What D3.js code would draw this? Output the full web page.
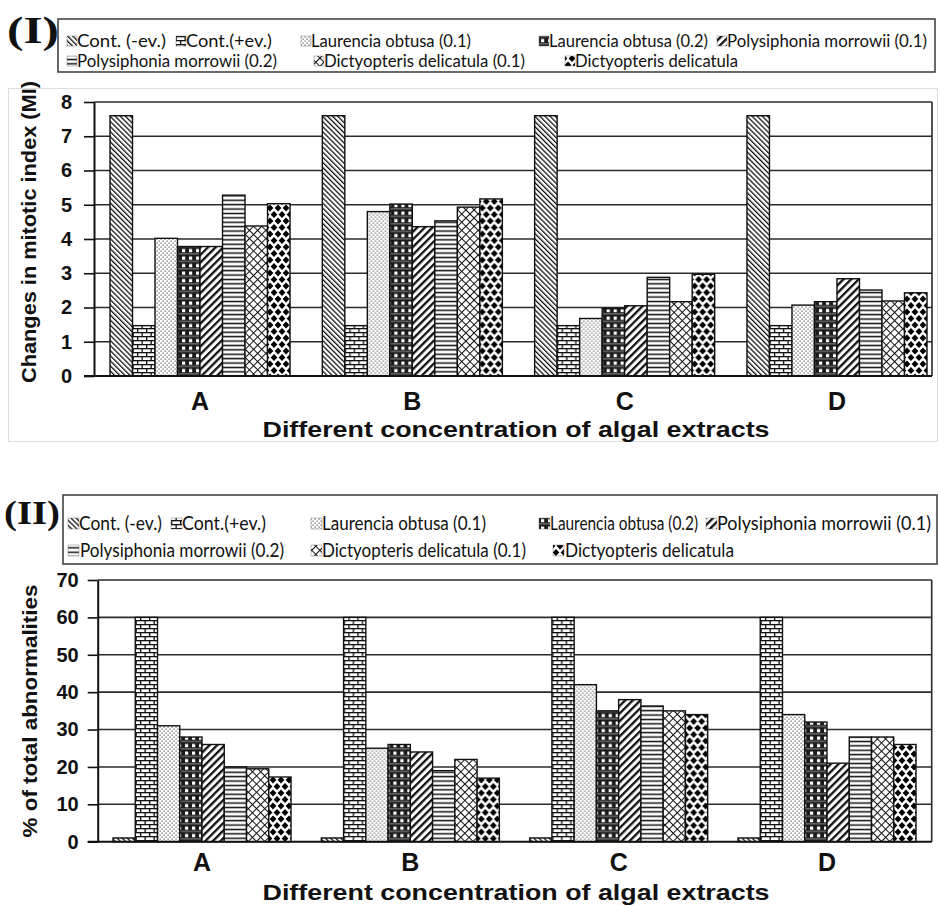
<!DOCTYPE html>
<html><head><meta charset="utf-8">
<script src="https://cdn.jsdelivr.net/npm/d3@7"></script>
<style>body{margin:0;background:#fff} svg{display:block}</style>
</head><body>
<svg id="chart" width="938" height="905"></svg>
<script>
// ---------- data ----------
const categories = ["A", "B", "C", "D"];
const seriesNames = ["Cont. (-ev.)", "Cont.(+ev.)", "Laurencia obtusa (0.1)", "Laurencia obtusa (0.2)",
  "Polysiphonia morrowii (0.1)", "Polysiphonia morrowii (0.2)", "Dictyopteris delicatula (0.1)", "Dictyopteris delicatula"];
// Panel I : changes in mitotic index (MI)
const mitoticA = [7.6, 1.47, 4.02, 3.78, 3.78, 5.28, 4.38, 5.03];
const mitoticB = [7.6, 1.47, 4.80, 5.02, 4.36, 4.53, 4.93, 5.17];
const mitoticC = [7.6, 1.47, 1.68, 1.97, 2.05, 2.88, 2.17, 2.97];
const mitoticD = [7.6, 1.47, 2.07, 2.17, 2.84, 2.51, 2.19, 2.43];
// Panel II : % of total abnormalities
const abnormA = [1, 60, 31, 28, 26, 20, 19.5, 17.3];
const abnormB = [1, 60, 25, 26, 24, 19, 22, 17];
const abnormC = [1, 60, 42, 35, 38, 36.3, 35, 34];
const abnormD = [1, 60, 34, 32, 21, 28, 28, 26];
const mitoticTicks = [0, 1, 2, 3, 4, 5, 6, 7, 8];
const abnormTicks = [0, 10, 20, 30, 40, 50, 60, 70];
const xTitle = "Different concentration of algal extracts";

// ---------- setup ----------
const svg = d3.select("#chart");
svg.append("rect").attr("width", 938).attr("height", 905).attr("fill", "#fff");
const defs = svg.append("defs");

function pattern(id, w, h, transform) {
  const p = defs.append("pattern").attr("id", id).attr("patternUnits", "userSpaceOnUse")
    .attr("width", w).attr("height", h);
  if (transform) p.attr("patternTransform", transform);
  p.append("rect").attr("width", w).attr("height", h).attr("fill", "#fff");
  return p;
}
// 0: dense "\\" diagonals
pattern("p0", 3.6, 3.6, "rotate(-45)").append("rect").attr("x", 0).attr("y", 0).attr("width", 1.3).attr("height", 3.6).attr("fill", "#111");
// 1: horizontal bricks
{
  const p = pattern("p1", 9, 8);
  p.append("rect").attr("x", 0).attr("y", 0).attr("width", 9).attr("height", 1.3).attr("fill", "#111");
  p.append("rect").attr("x", 0).attr("y", 4).attr("width", 9).attr("height", 1.3).attr("fill", "#111");
  p.append("rect").attr("x", 0).attr("y", 0).attr("width", 1.3).attr("height", 4).attr("fill", "#111");
  p.append("rect").attr("x", 4.5).attr("y", 4).attr("width", 1.3).attr("height", 4).attr("fill", "#111");
}
// 2: small dots
{
  const p = pattern("p2", 4, 4);
  p.append("rect").attr("x", 0.5).attr("y", 0.5).attr("width", 1.2).attr("height", 1.2).attr("fill", "#555");
  p.append("rect").attr("x", 2.5).attr("y", 2.5).attr("width", 1.2).attr("height", 1.2).attr("fill", "#555");
}
// 3: black with white squares
{
  const p = pattern("p3", 7, 7.5);
  p.append("rect").attr("width", 7).attr("height", 7.5).attr("fill", "#1a1a1a");
  p.append("rect").attr("x", 0).attr("y", 5.5).attr("width", 7).attr("height", 1.6).attr("fill", "#666");
  p.append("rect").attr("x", 2).attr("y", 1.5).attr("width", 3.2).attr("height", 3.2).attr("fill", "#fff");
}
// 4: wide "/" diagonals
pattern("p4", 5.4, 5.4, "rotate(45)").append("rect").attr("x", 0).attr("y", 0).attr("width", 2.3).attr("height", 5.4).attr("fill", "#111");
// 5: horizontal lines
pattern("p5", 4, 4.4).append("rect").attr("x", 0).attr("y", 1.5).attr("width", 4).attr("height", 1.5).attr("fill", "#111");
// 6: diagonal crosshatch
{
  const p = pattern("p6", 5.8, 5.8, "rotate(45)");
  p.append("rect").attr("x", 0).attr("y", 0).attr("width", 1).attr("height", 5.8).attr("fill", "#111");
  p.append("rect").attr("x", 0).attr("y", 0).attr("width", 5.8).attr("height", 1).attr("fill", "#111");
}
// 7: solid diamonds
{
  const p = pattern("p7", 8, 13);
  const dia = (cx, cy) => `M${cx},${cy - 3.4}L${cx + 3.4},${cy}L${cx},${cy + 3.4}L${cx - 3.4},${cy}Z`;
  p.append("path").attr("d", dia(0, 0) + dia(8, 0) + dia(0, 13) + dia(8, 13) + dia(4, 6.5)).attr("fill", "#000");
}
const fills = seriesNames.map((d, i) => `url(#p${i})`);

// ---------- legends ----------
const legendFont = "Lato, 'Open Sans', sans-serif";
function legend(box, rows, fontSize, iconSize, yStretch) {
  const g = svg.append("g");
  g.append("rect").attr("x", box.x).attr("y", box.y).attr("width", box.w).attr("height", box.h)
    .attr("fill", "#fff").attr("stroke", "#444").attr("stroke-width", 1.6);
  rows.forEach(r => {
    const it = g.append("g");
    it.append("rect").attr("x", r.ix).attr("y", r.by - iconSize - 1).attr("width", iconSize).attr("height", iconSize)
      .attr("fill", fills[r.s]).attr("stroke", "#666").attr("stroke-width", 0.4);
    it.append("text").attr("transform", `translate(${r.tx},${r.by}) scale(1,${yStretch})`)
      .attr("font-family", legendFont)
      .attr("font-size", fontSize).attr("fill", "#111")
      .attr("textLength", r.len).attr("lengthAdjust", "spacingAndGlyphs").text(seriesNames[r.s]);
  });
}
legend({x: 58, y: 19, w: 877, h: 53}, [
  {s: 0, ix: 67, tx: 77, by: 47, len: 89},
  {s: 1, ix: 176, tx: 186, by: 47, len: 86},
  {s: 2, ix: 301, tx: 311, by: 47, len: 160},
  {s: 3, ix: 539, tx: 549, by: 47, len: 159},
  {s: 4, ix: 717, tx: 727, by: 47, len: 200},
  {s: 5, ix: 67, tx: 77, by: 67, len: 200},
  {s: 6, ix: 314, tx: 324, by: 67, len: 201},
  {s: 7, ix: 565, tx: 575, by: 67, len: 163}
], 16.5, 10, 1);
legend({x: 63, y: 495, w: 874, h: 69}, [
  {s: 0, ix: 68, tx: 79, by: 530, len: 83},
  {s: 1, ix: 171, tx: 182, by: 530, len: 84},
  {s: 2, ix: 311, tx: 322, by: 530, len: 164},
  {s: 3, ix: 539, tx: 550, by: 530, len: 148},
  {s: 4, ix: 706, tx: 717, by: 530, len: 214},
  {s: 5, ix: 68, tx: 80, by: 557, len: 204},
  {s: 6, ix: 311, tx: 322, by: 557, len: 204},
  {s: 7, ix: 553, tx: 565, by: 557, len: 169}
], 16, 11, 1.22);

// panel numerals
svg.append("text").attr("x", 7).attr("y", 43).attr("font-family", "'Liberation Serif', 'DejaVu Serif', serif")
  .attr("font-weight", "bold").attr("font-size", 38).attr("textLength", 52).attr("lengthAdjust", "spacingAndGlyphs")
  .attr("fill", "#111").text("(I)");
svg.append("text").attr("x", 4).attr("y", 524).attr("font-family", "'Liberation Serif', 'DejaVu Serif', serif")
  .attr("font-weight", "bold").attr("font-size", 34).attr("textLength", 56).attr("lengthAdjust", "spacingAndGlyphs")
  .attr("fill", "#111").text("(II)");

// faint frame of panel I
svg.append("rect").attr("x", 8.5).attr("y", 88.5).attr("width", 929).attr("height", 353)
  .attr("fill", "none").attr("stroke", "#dcdcdc").attr("stroke-width", 1);

// ---------- panels ----------
const axisFont = "'Liberation Sans', Arial, sans-serif";
function panel(c) {
  const g = svg.append("g");
  const y = d3.scaleLinear().domain([0, c.ticks[c.ticks.length - 1]]).range([c.bottom, c.top]);
  const x0 = d3.scaleBand().domain(categories).range(c.groupRange).paddingInner(c.pad).paddingOuter(0);
  const x1 = d3.scaleBand().domain(d3.range(seriesNames.length)).range([0, x0.bandwidth()]).padding(0);

  // gridlines
  g.append("g").selectAll("line").data(c.ticks.filter(t => t > 0)).join("line")
    .attr("x1", c.left).attr("x2", c.right).attr("y1", d => y(d)).attr("y2", d => y(d))
    .attr("stroke", "#2a2a2a").attr("stroke-width", 1.6);
  g.append("line").attr("x1", c.right).attr("x2", c.right).attr("y1", c.top).attr("y2", c.bottom)
    .attr("stroke", "#2a2a2a").attr("stroke-width", 1.6);

  // bars
  const groups = g.append("g").selectAll("g").data(categories).join("g")
    .attr("transform", d => `translate(${x0(d)},0)`);
  groups.selectAll("rect").data((d, i) => c.values[i].map((v, k) => ({k, v}))).join("rect")
    .attr("x", d => x1(d.k)).attr("width", x1.bandwidth())
    .attr("y", d => y(d.v)).attr("height", d => y(0) - y(d.v))
    .attr("fill", d => fills[d.k]).attr("stroke", "#111").attr("stroke-width", 1.4);

  // y axis
  const ya = g.append("g").attr("transform", `translate(${c.left},0)`)
    .call(d3.axisLeft(y).tickValues(c.ticks).tickSize(10).tickPadding(c.tickPad).tickSizeOuter(0));
  ya.select(".domain").attr("stroke", "#111").attr("stroke-width", 2);
  ya.selectAll(".tick line").attr("stroke", "#111").attr("stroke-width", 1.6);
  ya.selectAll(".tick text").attr("font-family", axisFont).attr("font-weight", "bold")
    .attr("font-size", 20).attr("fill", "#111");

  // x axis
  const xa = g.append("g").attr("transform", `translate(0,${c.bottom})`)
    .call(d3.axisBottom(x0).tickSize(0).tickPadding(c.xPad).tickSizeOuter(0));
  xa.select(".domain").remove();
  xa.selectAll(".tick text").attr("font-family", axisFont).attr("font-weight", "bold")
    .attr("font-size", c.xFont).attr("fill", "#111");
  g.append("line").attr("x1", c.left - 10).attr("x2", c.right).attr("y1", c.bottom).attr("y2", c.bottom)
    .attr("stroke", "#111").attr("stroke-width", 2);

  // titles
  g.append("text").attr("x", 516).attr("y", c.titleY).attr("text-anchor", "middle")
    .attr("font-family", axisFont).attr("font-weight", "bold").attr("font-size", 22)
    .attr("textLength", 507).attr("lengthAdjust", "spacingAndGlyphs").attr("fill", "#111").text(xTitle);
  g.append("text").attr("transform", `translate(${c.yTitleX},${c.yTitleY}) rotate(-90)`)
    .attr("text-anchor", "middle").attr("dy", "0.36em")
    .attr("font-family", axisFont).attr("font-weight", "bold").attr("font-size", 21)
    .attr("textLength", c.yTitleLen).attr("lengthAdjust", "spacingAndGlyphs").attr("fill", "#111").text(c.yTitle);
}

panel({
  left: 94, right: 932, top: 102, bottom: 376, groupRange: [110, 927], pad: 0.152,
  ticks: mitoticTicks, tickPad: 12, values: [mitoticA, mitoticB, mitoticC, mitoticD],
  xPad: 16, xFont: 25, titleY: 437,
  yTitle: "Changes in mitotic index (MI)", yTitleX: 28, yTitleY: 232, yTitleLen: 302
});
panel({
  left: 97.7, right: 931.7, top: 580, bottom: 841.7, groupRange: [113, 916], pad: 0.1455,
  ticks: abnormTicks, tickPad: 9, values: [abnormA, abnormB, abnormC, abnormD],
  xPad: 12, xFont: 25, titleY: 900,
  yTitle: "% of total abnormalities", yTitleX: 29, yTitleY: 711, yTitleLen: 253
});
</script>
</body></html>
